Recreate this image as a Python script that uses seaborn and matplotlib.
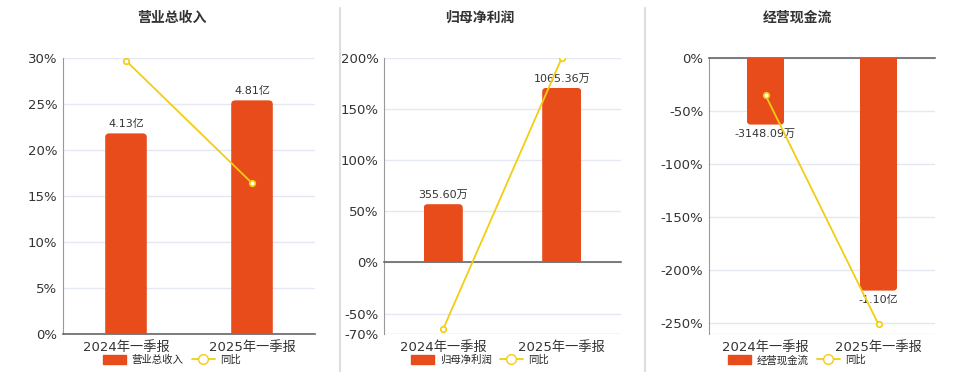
import matplotlib
matplotlib.use("Agg")
import matplotlib.pyplot as plt
import seaborn as sns
import pandas as pd
from matplotlib.lines import Line2D
from matplotlib.patches import Patch, FancyBboxPatch, Rectangle


# Data
periods = ["2024年一季报", "2025年一季报"]

titles = ["营业总收入", "归母净利润", "经营现金流"]

revenue = [4.13, 4.81]                 # 亿
revenue_labels = ["4.13亿", "4.81亿"]
revenue_yoy = [29.7, 16.4]             # %

profit = [355.60, 1065.36]             # 万
profit_labels = ["355.60万", "1065.36万"]
profit_yoy = [-65.0, 200.0]            # %

cashflow = [-3148.09, -11000.0]        # 万
cashflow_labels = ["-3148.09万", "-1.10亿"]
cashflow_yoy = [-35.0, -251.0]         # %

pct_ticks = [
    [0, 5, 10, 15, 20, 25, 30],
    [-70, -50, 0, 50, 100, 150, 200],
    [0, -50, -100, -150, -200, -250],
]
pct_limits = [(0, 30), (-70, 200), (-260, 0)]

# amount per percent on the hidden bar axis (so bars sit like the original)
bar_scale = [0.1894, 6.24, 50.2]


# -------------------------------
# Style
# -------------------------------
sns.set_style("white")
plt.rcParams["font.family"] = ["DejaVu Sans", "Noto Sans CJK SC"]

BAR_COLOR = "#E84C1B"
LINE_COLOR = "#F3CD12"
GRID_COLOR = "#E4E8F3"
TEXT_COLOR = "#333333"

fig = plt.figure(figsize=(9.6, 3.72), dpi=100)

# axes boxes in pixels: left, right
boxes = [(63, 315), (384, 621), (709, 935)]
top_px, bottom_px = 58, 334
W, H = 960, 372
centers = [172, 480, 797]
RADIUS_PX = 4

panels = [
    (revenue, revenue_labels, revenue_yoy),
    (profit, profit_labels, profit_yoy),
    (cashflow, cashflow_labels, cashflow_yoy),
]


def round_bars(ax_bar, width_px, height_px):
    # swap plain bars for ones with rounded far-end corners
    x0, x1 = ax_bar.get_xlim()
    y0, y1 = ax_bar.get_ylim()
    rx = RADIUS_PX * (x1 - x0) / width_px
    ry = RADIUS_PX * (y1 - y0) / height_px
    for p in list(ax_bar.patches):
        x, y = p.get_x(), p.get_y()
        w, h = p.get_width(), p.get_height()
        # extend past the baseline so only the far end shows rounding
        if h >= 0:
            by, bh = y - ry, h + ry
        else:
            by, bh = y + ry, h - ry
        fb = FancyBboxPatch(
            (x, min(by, by + bh)), w, abs(bh),
            boxstyle=f"round,pad=0,rounding_size={rx}",
            mutation_aspect=ry / rx,
            facecolor=BAR_COLOR, edgecolor="none", zorder=p.get_zorder()
        )
        clip = Rectangle((x, min(y, y + h)), w, abs(h), transform=ax_bar.transData)
        ax_bar.add_patch(fb)
        fb.set_clip_path(clip)
        p.set_visible(False)


for i, (vals, labels, yoy) in enumerate(panels):
    l, r = boxes[i]
    rect = [l / W, 1 - bottom_px / H, (r - l) / W, (bottom_px - top_px) / H]
    ax = fig.add_axes(rect)
    ax_bar = ax.twinx()
    ax_line = ax.twinx()

    df = pd.DataFrame({"period": periods, "value": vals, "yoy": yoy})

    # bars on hidden amount axis
    sns.barplot(
        data=df, x="period", y="value", ax=ax_bar,
        color=BAR_COLOR, saturation=1, width=0.33, linewidth=0
    )
    lo, hi = pct_limits[i]
    ax_bar.set_ylim(lo * bar_scale[i], hi * bar_scale[i])
    ax_bar.set_xlim(-0.5, 1.5)
    ax_bar.bar_label(
        ax_bar.containers[0], labels=labels, padding=3,
        fontsize=8, color=TEXT_COLOR
    )
    round_bars(ax_bar, r - l, bottom_px - top_px)

    # yoy line
    sns.lineplot(
        data=df, x="period", y="yoy", ax=ax_line,
        color=LINE_COLOR, linewidth=1.3, marker="o",
        markersize=4, markerfacecolor="white",
        markeredgecolor=LINE_COLOR, markeredgewidth=1.2
    )
    ax_line.set_ylim(lo, hi)

    # percent axis
    ax.set_ylim(lo, hi)
    ax.set_yticks(pct_ticks[i])
    ax.set_yticklabels([f"{t}%" for t in pct_ticks[i]])
    ax.yaxis.grid(True, color=GRID_COLOR, linewidth=1)
    ax.set_axisbelow(True)
    ax.axhline(lo, color=GRID_COLOR, linewidth=1, zorder=0)
    ax.tick_params(axis="y", length=0, labelsize=9.5, labelcolor=TEXT_COLOR, pad=4)

    for a in (ax, ax_bar, ax_line):
        for s in a.spines.values():
            s.set_visible(False)
        a.set_xlabel("")
        a.set_ylabel("")
    ax_bar.set_yticks([])
    ax_line.set_yticks([])

    ax.spines["left"].set_visible(True)
    ax.spines["left"].set_color("#999999")
    ax.spines["bottom"].set_visible(True)
    ax.spines["bottom"].set_position(("data", 0))
    ax.spines["bottom"].set_color("#666666")
    ax.spines["bottom"].set_linewidth(1.2)

    ax.set_xlim(-0.5, 1.5)
    ax.set_xticks([0, 1])
    ax.set_xticks([-0.5, 0.5, 1.5], minor=True)
    ax.tick_params(axis="x", which="major", length=0, labelbottom=False)
    ax.tick_params(axis="x", which="minor", length=4, color="#666666")

    ax_line.xaxis.set_visible(True)
    ax_line.set_xticks([0, 1])
    ax_line.set_xticklabels(periods)
    ax_line.tick_params(axis="x", which="both", length=0, labelbottom=True,
                        labelsize=9.5, labelcolor=TEXT_COLOR, pad=5)
    ax_bar.xaxis.set_visible(False)

    fig.text(centers[i] / W, 1 - 18 / H, titles[i], ha="center", va="center",
             fontsize=10, fontweight="bold", color=TEXT_COLOR,
             family=["Noto Sans CJK SC"])

    handles = [
        Patch(facecolor=BAR_COLOR, edgecolor=BAR_COLOR),
        Line2D([], [], color=LINE_COLOR, linewidth=1.3, marker="o",
               markersize=7, markerfacecolor="white", markeredgecolor=LINE_COLOR),
    ]
    fig.legend(
        handles, [titles[i], "同比"], loc="center",
        bbox_to_anchor=(centers[i] / W, 1 - 360 / H), ncol=2,
        frameon=False, handlelength=2.2, handleheight=1.0,
        columnspacing=0.8, handletextpad=0.5,
        prop={"family": ["Noto Sans CJK SC"], "size": 7.5}
    )

# separators between panels
for x in (340, 645):
    fig.add_artist(Line2D([x / W, x / W], [0, 1 - 8 / H],
                          color="#DDDDDD", linewidth=1.5))

fig.savefig("out.png", dpi=100)
